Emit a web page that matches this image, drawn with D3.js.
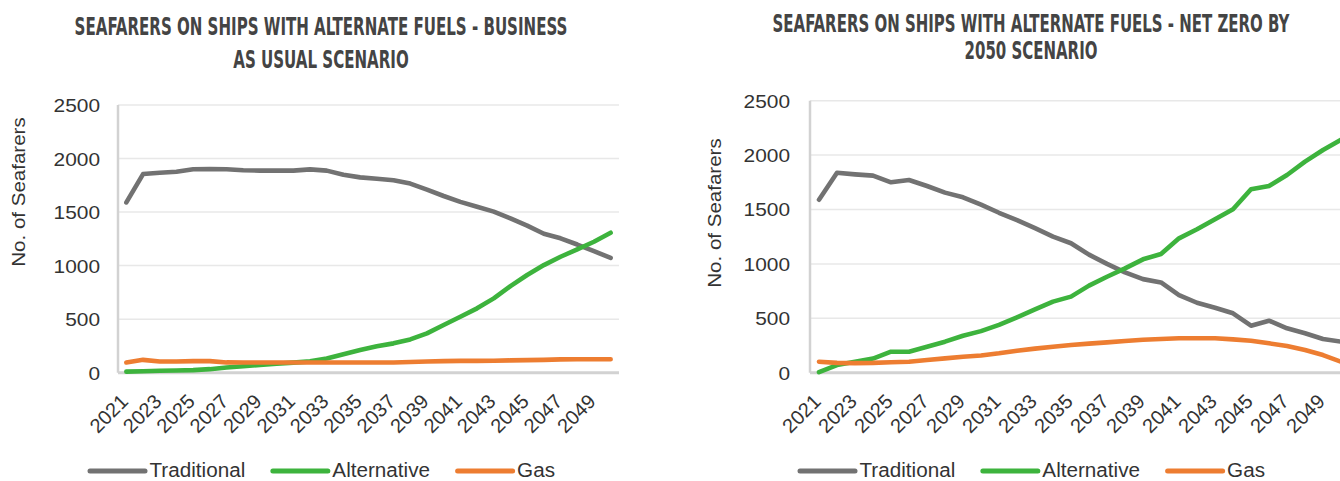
<!DOCTYPE html>
<html><head><meta charset="utf-8">
<script src="https://cdn.jsdelivr.net/npm/d3@7"></script>
<style>
html,body{margin:0;padding:0;background:#fff;overflow:hidden}
svg{display:block}
</style></head><body>
<svg id="c" width="1340" height="481"></svg>
<script>
// ---------- DATA ----------
const years = ["2021","2022","2023","2024","2025","2026","2027","2028","2029","2030",
  "2031","2032","2033","2034","2035","2036","2037","2038","2039","2040",
  "2041","2042","2043","2044","2045","2046","2047","2048","2049","2050"];
const tickYears = ["2021","2023","2025","2027","2029","2031","2033","2035","2037","2039",
  "2041","2043","2045","2047","2049"];
const yTicks = [0, 500, 1000, 1500, 2000, 2500];
const seriesNames = ["Traditional", "Alternative", "Gas"];

// Business as usual scenario
const bauTraditional = [1590,1855,1868,1877,1900,1902,1900,1890,1887,1887,
  1887,1899,1887,1848,1824,1812,1797,1766,1710,1650,
  1595,1550,1504,1441,1373,1298,1255,1197,1135,1072];
const bauAlternative = [10,14,18,20,24,33,48,60,72,83,
  94,106,132,172,212,247,274,311,367,445,
  523,601,694,809,912,1005,1083,1152,1223,1307];
const bauGas = [95,120,105,105,108,108,96,95,95,95,
  95,95,95,95,95,95,95,100,105,108,
  110,110,112,115,117,120,124,125,125,125];

// Net zero by 2050 scenario
const nzTraditional = [1590,1838,1823,1811,1750,1771,1716,1655,1612,1545,
  1470,1403,1328,1250,1190,1085,1000,922,860,830,
  714,643,597,546,432,478,408,362,310,285];
const nzAlternative = [5,70,100,130,193,193,239,285,340,382,
  440,509,582,653,699,800,882,959,1042,1091,
  1235,1318,1410,1502,1686,1716,1817,1940,2047,2140];
const nzGas = [101,90,88,90,96,101,116,132,147,158,
  178,202,221,239,254,267,279,291,303,310,
  316,316,316,306,294,270,245,208,162,101];

const titleBAU = ["SEAFARERS ON SHIPS WITH ALTERNATE FUELS - BUSINESS", "AS USUAL SCENARIO"];
const titleNZ = ["SEAFARERS ON SHIPS WITH ALTERNATE FUELS - NET ZERO BY", "2050 SCENARIO"];
const yAxisTitle = "No. of Seafarers";

// ---------- STYLE ----------
const colors = ["#727272", "#3db33d", "#ed7d31"];
const textFont = "'Liberation Sans', Arial, sans-serif";
const titleFont = "'Liberation Sans Narrow', 'DejaVu Sans Condensed', 'Liberation Sans', sans-serif";

const svg = d3.select("#c");

function stretch(sel, k) {
  sel.each(function () {
    const w = this.getComputedTextLength();
    d3.select(this).attr("textLength", w * k).attr("lengthAdjust", "spacingAndGlyphs");
  });
}

function drawChart(cfg, seriesData, titleLines) {
  const g = svg.append("g");
  const x = d3.scaleBand().domain(years).range([cfg.left, cfg.right]).padding(0);
  const px = d => x(d) + x.bandwidth() / 2;
  const y = d3.scaleLinear().domain([0, 2500]).range([cfg.bottom, cfg.top]);

  // gridlines
  g.append("g").selectAll("line").data(yTicks.filter(t => t > 0)).join("line")
    .attr("x1", cfg.left).attr("x2", cfg.right)
    .attr("y1", d => y(d)).attr("y2", d => y(d))
    .attr("stroke", "#e8e8e8").attr("stroke-width", 1.5);

  // axis lines
  g.append("line").attr("x1", cfg.left).attr("x2", cfg.left)
    .attr("y1", y(2500)).attr("y2", y(0))
    .attr("stroke", "#d2d2d2").attr("stroke-width", 2.5);
  g.append("line").attr("x1", cfg.left).attr("x2", cfg.right)
    .attr("y1", y(0)).attr("y2", y(0))
    .attr("stroke", "#d2d2d2").attr("stroke-width", 3);

  // y axis labels
  const ya = g.append("g").attr("transform", `translate(${cfg.left},0)`)
    .call(d3.axisLeft(y).tickValues(yTicks).tickSize(0).tickPadding(cfg.left - cfg.tickRight).tickFormat(d3.format("d")));
  ya.select(".domain").remove();
  ya.selectAll("text").attr("font-family", textFont).attr("font-size", 18)
    .attr("fill", "#333").attr("dy", "0.36em").call(stretch, 1.16);

  // x axis labels
  const xa = g.append("g").attr("transform", `translate(0,${cfg.bottom})`)
    .call(d3.axisBottom(x).tickValues(tickYears).tickSize(0));
  xa.select(".domain").remove();
  xa.selectAll("text").attr("font-family", textFont).attr("font-size", 20)
    .attr("fill", "#333").attr("x", 0).attr("y", 0).attr("dy", 0)
    .attr("text-anchor", "end")
    .attr("transform", "translate(3,30) rotate(-45)");

  // y axis title
  g.append("text").text(yAxisTitle)
    .attr("font-family", textFont).attr("font-size", 19).attr("fill", "#333")
    .attr("text-anchor", "middle")
    .attr("transform", `translate(${cfg.axisTitleX},${cfg.axisTitleY}) rotate(-90)`)
    .call(stretch, 1.08);

  // lines
  const line = d3.line().x((d, i) => px(years[i])).y(d => y(d));
  seriesData.forEach((s, i) => {
    g.append("path").datum(s).attr("d", line)
      .attr("fill", "none").attr("stroke", colors[i]).attr("stroke-width", 4.6)
      .attr("stroke-linejoin", "round").attr("stroke-linecap", "round");
  });

  // title (horizontally condensed via transform so bounding boxes stay accurate)
  const tl = g.selectAll("text.title").data(titleLines).join("text").attr("class", "title")
    .text(d => d)
    .attr("x", 0).attr("y", 0)
    .attr("text-anchor", "middle")
    .attr("font-family", titleFont).attr("font-weight", "bold").attr("font-size", 25)
    .attr("fill", "#444");
  const w0 = tl.nodes()[0].getComputedTextLength();
  const k = cfg.titleWidth / w0;
  tl.attr("transform", (d, i) => `translate(${cfg.center},${cfg.titleY[i]}) scale(${k},1)`);

  // legend
  let lx = cfg.legendX;
  seriesNames.forEach((name, i) => {
    g.append("line").attr("x1", lx).attr("x2", lx + 55)
      .attr("y1", 471).attr("y2", 471)
      .attr("stroke", colors[i]).attr("stroke-width", 5).attr("stroke-linecap", "round");
    const t = g.append("text").text(name).attr("x", lx + 59.5).attr("y", 476.5)
      .attr("font-family", textFont).attr("font-size", 19.5).attr("fill", "#333");
    t.call(stretch, 1.06);
    lx = lx + 59.5 + +t.attr("textLength") + 27.6;
  });
}

drawChart({left: 118, right: 619, top: 105, bottom: 372.7, center: 321, tickRight: 100,
  axisTitleX: 25, axisTitleY: 192, titleY: [35, 68.3], titleWidth: 493, legendX: 90},
  [bauTraditional, bauAlternative, bauGas], titleBAU);

drawChart({left: 810, right: 1350, top: 100.7, bottom: 372.7, center: 1031, tickRight: 790,
  axisTitleX: 721, axisTitleY: 213, titleY: [31.5, 58.8], titleWidth: 517, legendX: 800},
  [nzTraditional, nzAlternative, nzGas], titleNZ);
</script>
</body></html>
